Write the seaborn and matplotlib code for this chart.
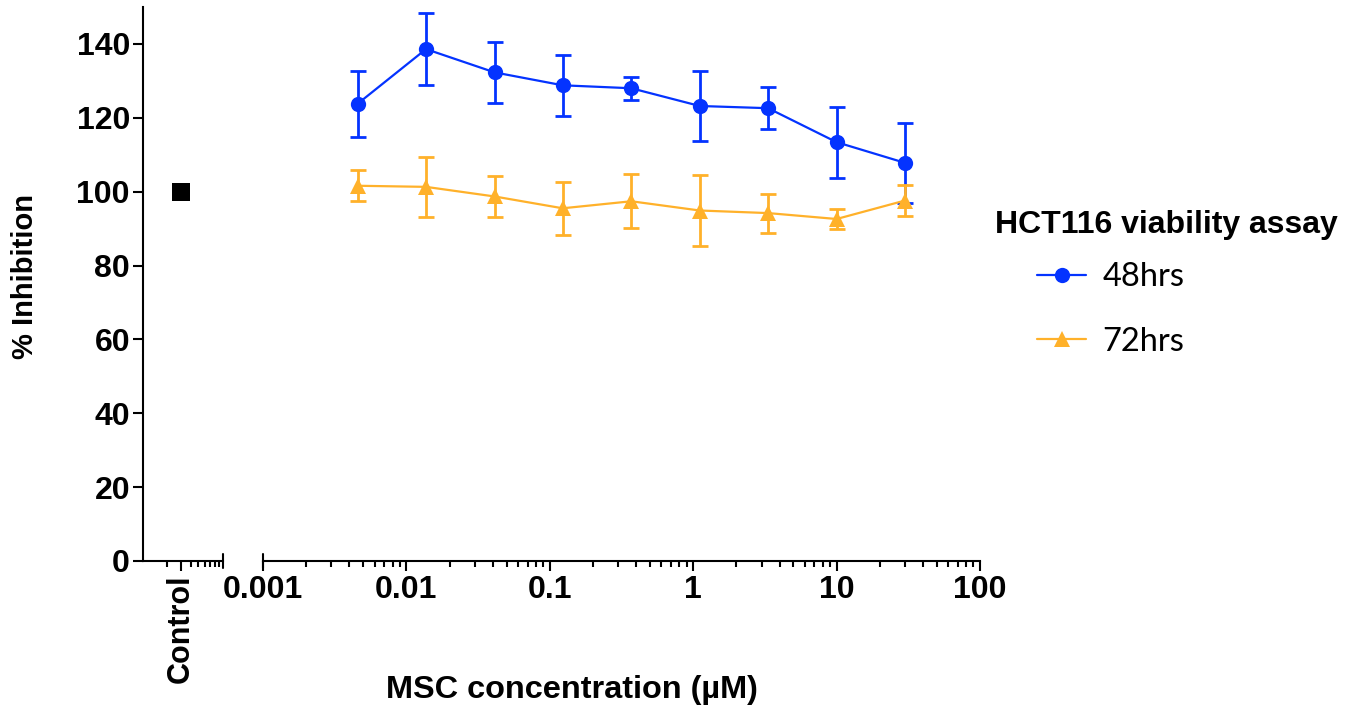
import numpy as np
import pandas as pd
import seaborn as sns
import matplotlib.pyplot as plt
from matplotlib.lines import Line2D
from matplotlib.ticker import LogLocator, NullFormatter, FixedLocator

# data
conc = [0.00457, 0.0137, 0.0412, 0.123, 0.370, 1.11, 3.33, 10, 30]
inh_48 = [123.8, 138.6, 132.3, 128.8, 128.0, 123.2, 122.6, 113.4, 107.8]
err_48 = [9.0, 9.7, 8.3, 8.3, 3.1, 9.5, 5.7, 9.6, 10.9]
inh_72 = [101.6, 101.3, 98.7, 95.5, 97.4, 94.9, 94.2, 92.6, 97.6]
err_72 = [4.2, 8.2, 5.5, 7.2, 7.3, 9.5, 5.3, 2.7, 4.1]
control_pos = [3]
control_val = [100]
series = ['48hrs', '72hrs']
colors = {'48hrs': '#0433FF', '72hrs': '#FFB12A'}
legend_title = 'HCT116 viability assay'

sns.set_theme(style='ticks')
plt.rcParams['font.family'] = ['Liberation Sans', 'DejaVu Sans']
plt.rcParams['font.weight'] = 'bold'
for key in ['text.color', 'axes.labelcolor', 'xtick.color', 'ytick.color', 'axes.edgecolor']:
    plt.rcParams[key] = 'black'

FS = 23

df = pd.DataFrame({
    'conc': conc + conc,
    'inh': inh_48 + inh_72,
    'time': ['48hrs'] * len(conc) + ['72hrs'] * len(conc),
})

fig = plt.figure(figsize=(13.58, 7.14), dpi=100)
W, H = 1358, 714
bottom = 1 - 561 / H
height = 554 / H
ax_c = fig.add_axes([142.5 / W, bottom, 80 / W, height])
ax = fig.add_axes([263 / W, bottom, 717 / W, height])

# control segment
sns.scatterplot(x=control_pos, y=control_val, marker='s', s=170, color='black',
                linewidth=0, ax=ax_c, zorder=5)
ax_c.set_xscale('log')
ax_c.set_xlim(1, 10)
ax_c.set_ylim(0, 150)
ax_c.xaxis.set_major_locator(FixedLocator(control_pos))
ax_c.set_xticklabels(['Control'], rotation=90, fontsize=22, fontweight='bold')
ax_c.xaxis.set_minor_locator(FixedLocator([2, 4, 5, 6, 7, 8, 9]))
ax_c.xaxis.set_minor_formatter(NullFormatter())
ax_c.set_yticks(np.arange(0, 141, 20))
ax_c.tick_params(axis='y', labelsize=FS, length=7, width=1.5, pad=2)
ax_c.tick_params(axis='x', which='major', length=7, width=1.5, pad=3)
ax_c.tick_params(axis='x', which='minor', length=4, width=1.5)
for lab in ax_c.get_yticklabels():
    lab.set_fontweight('bold')
sns.despine(ax=ax_c)
for s in ['left', 'bottom']:
    ax_c.spines[s].set_linewidth(1.5)
ax_c.plot([1, 1], [-0.012, 0.012], transform=ax_c.transAxes, color='black',
          lw=1.5, clip_on=False)
ax_c.set_xlabel('')
ax_c.set_ylabel('')

# concentration segment
for name, vals, errs in [('48hrs', inh_48, err_48), ('72hrs', inh_72, err_72)]:
    ax.errorbar(conc, vals, yerr=errs, fmt='none', ecolor=colors[name],
                elinewidth=2, capsize=5.5, capthick=2, zorder=2)
sns.lineplot(data=df, x='conc', y='inh', hue='time', style='time',
             markers={'48hrs': 'o', '72hrs': '^'}, dashes=False,
             palette=colors, markersize=11, markeredgewidth=0, linewidth=1.6,
             errorbar=None, legend=False, ax=ax, zorder=3)
ax.set_xscale('log')
ax.set_xlim(0.001, 100)
ax.set_ylim(0, 150)
ax.set_xticks([0.001, 0.01, 0.1, 1, 10, 100])
ax.set_xticklabels(['0.001', '0.01', '0.1', '1', '10', '100'],
                   fontsize=FS, fontweight='bold')
ax.xaxis.set_minor_locator(LogLocator(base=10, subs=np.arange(2, 10), numticks=100))
ax.xaxis.set_minor_formatter(NullFormatter())
ax.tick_params(axis='x', which='major', length=7, width=1.5, pad=3)
ax.tick_params(axis='x', which='minor', length=4, width=1.5)
ax.set_yticks([])
for s in ['top', 'right', 'left']:
    ax.spines[s].set_visible(False)
ax.spines['bottom'].set_linewidth(1.5)
ax.plot([0, 0], [-0.012, 0.012], transform=ax.transAxes, color='black',
        lw=1.5, clip_on=False)
ax.set_xlabel('')
ax.set_ylabel('')
ax.patch.set_alpha(0)

fig.text(572 / W, 1 - 690 / H, 'MSC concentration (µM)', ha='center', va='center',
         fontsize=23.4, fontweight='bold')
fig.text(25 / W, 1 - 277 / H, '% Inhibition', ha='center', va='center',
         rotation=90, fontsize=21, fontweight='bold')

# legend
fig.text(995 / W, 1 - 225 / H, legend_title, ha='left', va='center',
         fontsize=FS, fontweight='bold')
handles = [Line2D([], [], color=colors['48hrs'], marker='o', markersize=11,
                  markeredgewidth=0, lw=1.6),
           Line2D([], [], color=colors['72hrs'], marker='^', markersize=11,
                  markeredgewidth=0, lw=1.6)]
leg = fig.legend(handles, series, loc='upper left',
                 bbox_to_anchor=(1008 / W, 1 - 233 / H), frameon=False,
                 prop={'family': 'Lato', 'size': 23.5, 'weight': 'normal'},
                 handlelength=1.5, handletextpad=0.5, labelspacing=1.05)

fig.savefig('out.png', dpi=100)
